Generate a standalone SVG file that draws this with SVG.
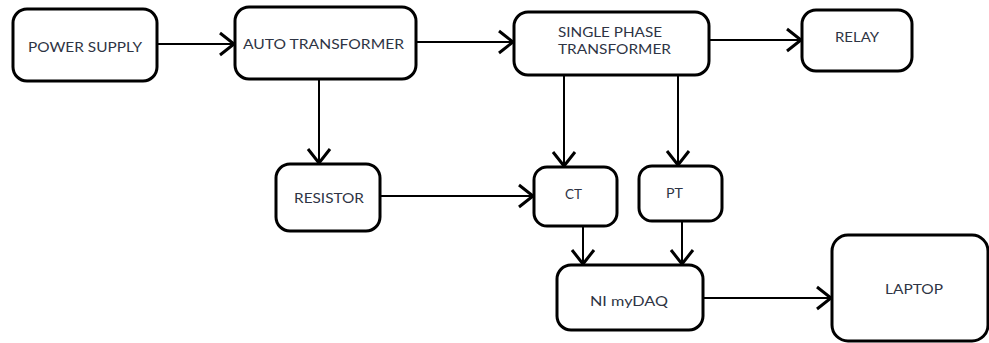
<svg xmlns="http://www.w3.org/2000/svg" width="989" height="343" viewBox="0 0 989 343">
  <style>
    .box { fill: #ffffff; stroke: #000000; stroke-width: 3; }
    .lbl { font-family: Lato, "Open Sans", "Liberation Sans", sans-serif; font-size: 13.5px; fill: #2e3444; }
    .wire { fill: none; stroke: #000000; stroke-width: 2; marker-end: url(#chevron); }
  </style>
  <defs>
    <!-- open chevron arrowhead -->
    <marker id="chevron" markerUnits="userSpaceOnUse" markerWidth="30" markerHeight="30" viewBox="-20 -15 30 30" refX="0" refY="0" orient="auto">
      <path d="M -14 -11 L 0 0 L -14 11" fill="none" stroke="#000000" stroke-width="3" stroke-linejoin="miter"/>
    </marker>
  </defs>
  <rect width="989" height="343" fill="#ffffff"/>

  <!-- connectors -->
  <g id="connectors">
    <path class="wire" d="M 157 44 L 234 44"/>
    <path class="wire" d="M 416 42 L 513 42"/>
    <path class="wire" d="M 709 40 L 801 40"/>
    <path class="wire" d="M 319 79 L 319 163"/>
    <path class="wire" d="M 564 75 L 564 166"/>
    <path class="wire" d="M 678 75 L 678 165"/>
    <path class="wire" d="M 380 196 L 533 196"/>
    <path class="wire" d="M 583 226 L 583 264"/>
    <path class="wire" d="M 682 221 L 682 264"/>
    <path class="wire" d="M 703 298 L 831 298"/>
  </g>

  <g id="power-supply">
    <rect class="box" x="13" y="9" width="144" height="72" rx="14"/>
    <text class="lbl" x="28" y="52" textLength="114" lengthAdjust="spacingAndGlyphs">POWER SUPPLY</text>
  </g>

  <g id="auto-transformer">
    <rect class="box" x="235" y="7" width="181" height="72" rx="14"/>
    <text class="lbl" x="243" y="49" textLength="161" lengthAdjust="spacingAndGlyphs">AUTO TRANSFORMER</text>
  </g>

  <g id="single-phase-transformer">
    <rect class="box" x="514" y="12" width="195" height="63" rx="14"/>
    <text class="lbl" x="558" y="37" textLength="104" lengthAdjust="spacingAndGlyphs">SINGLE PHASE</text>
    <text class="lbl" x="558" y="54" textLength="113" lengthAdjust="spacingAndGlyphs">TRANSFORMER</text>
  </g>

  <g id="relay">
    <rect class="box" x="802" y="10" width="110" height="61" rx="14"/>
    <text class="lbl" x="835" y="42" textLength="44" lengthAdjust="spacingAndGlyphs">RELAY</text>
  </g>

  <g id="resistor">
    <rect class="box" x="276" y="164" width="104" height="67" rx="14"/>
    <text class="lbl" x="294" y="203" textLength="70" lengthAdjust="spacingAndGlyphs">RESISTOR</text>
  </g>

  <g id="ct">
    <rect class="box" x="534" y="167" width="83" height="59" rx="13"/>
    <text class="lbl" x="565" y="199" textLength="17" lengthAdjust="spacingAndGlyphs">CT</text>
  </g>

  <g id="pt">
    <rect class="box" x="639" y="166" width="83" height="55" rx="13"/>
    <text class="lbl" x="666" y="198" textLength="17" lengthAdjust="spacingAndGlyphs">PT</text>
  </g>

  <g id="ni-mydaq">
    <rect class="box" x="557" y="265" width="146" height="65" rx="14"/>
    <text class="lbl" x="590" y="306" textLength="78" lengthAdjust="spacingAndGlyphs">NI myDAQ</text>
  </g>

  <g id="laptop">
    <rect class="box" x="832" y="235" width="156" height="106" rx="16"/>
    <text class="lbl" x="885" y="294" textLength="58" lengthAdjust="spacingAndGlyphs">LAPTOP</text>
  </g>
</svg>
